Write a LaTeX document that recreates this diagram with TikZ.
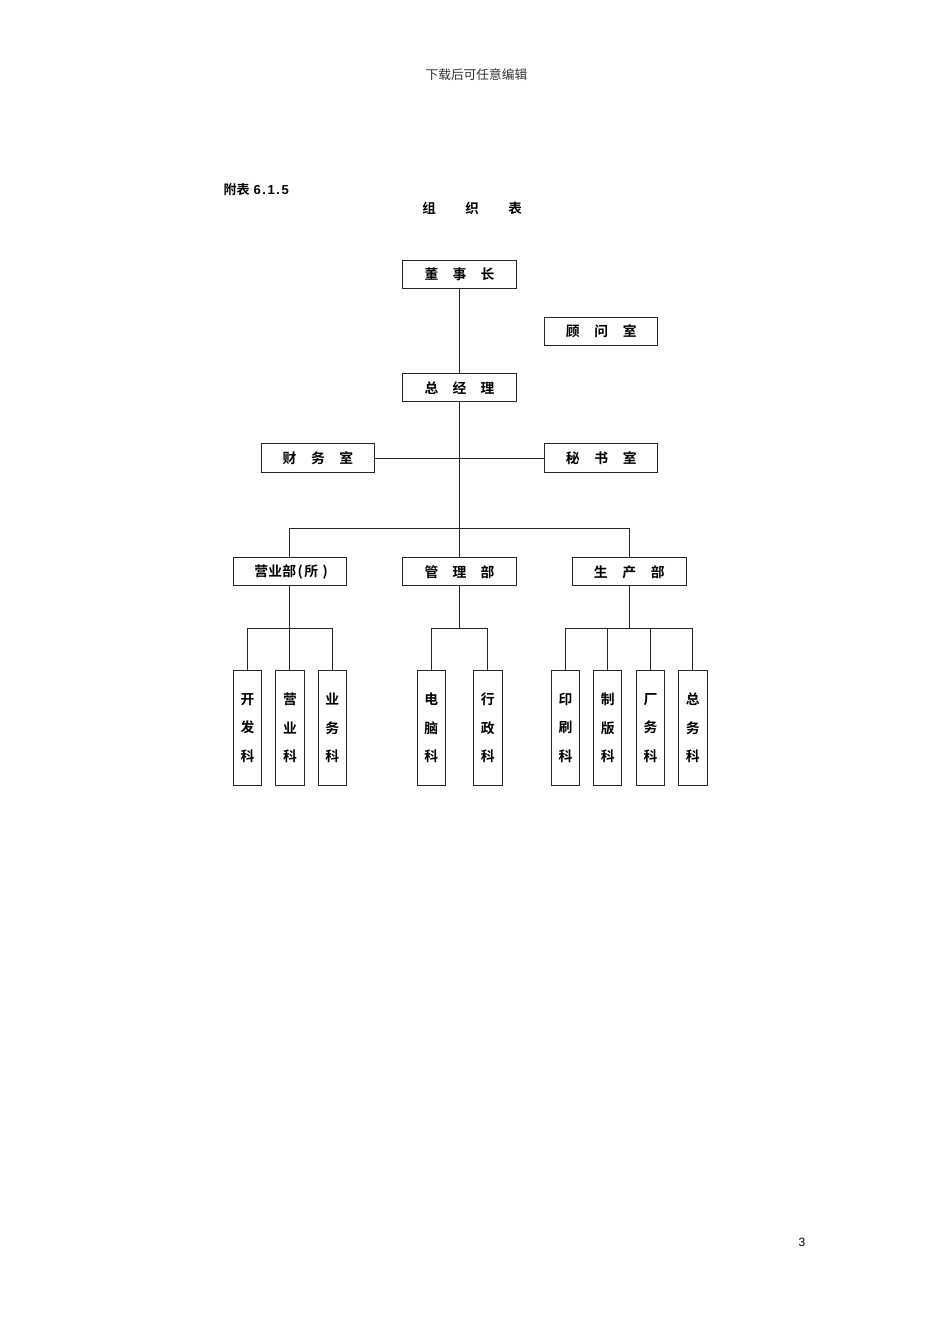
\documentclass[tikz,border=0pt]{standalone}
\usepackage{fontspec}
\setmainfont{Liberation Serif}
\newfontfamily\cjk[BoldFont={Noto Sans CJK SC Bold}]{Noto Sans CJK SC}
\newfontfamily\arial{Liberation Sans}
\newcommand\tri[4]{\makebox[#1]{#2}\makebox[#1]{#3}\makebox[#1]{#4}}
\tikzset{
  hbox/.style={draw=black!85, line width=1pt, minimum width=113.5pt, minimum height=28.3pt, inner sep=0pt,
    font=\cjk\bfseries\fontsize{13.8}{14}\selectfont},
  vbox/.style={draw=black!85, line width=1pt, minimum width=28.4pt, minimum height=114.3pt, inner sep=0pt, align=center,
    font=\cjk\bfseries\fontsize{13.8}{28.7}\selectfont},
  conn/.style={draw=black!85, line width=0.9pt},
}
\begin{document}
\begin{tikzpicture}[x=1pt,y=-1pt]
\useasboundingbox[fill=white] (0,0) rectangle (950,1344);
% header and titles
\node[font=\cjk\fontsize{12.7}{13}\selectfont, text=black!80] (hdr) at (476.4,75) {下载后可任意编辑};
\node[anchor=west, inner sep=0pt, font=\fontsize{13}{13}\selectfont] (tab) at (223.5,189.3)
  {{\cjk\bfseries 附表}\hspace{4pt}{\arial\bfseries\makebox[7pt]{6}\makebox[7pt]{.}\makebox[7pt]{1}\makebox[7pt]{.}\makebox[7pt]{5}}};
\node[font=\cjk\bfseries\fontsize{13.5}{14}\selectfont] (ttl) at (472,208.7) {\tri{43pt}{组}{织}{表}};
\node[font=\arial\fontsize{12}{12}\selectfont] (pg) at (802,1242) {3};
% top level
\node[hbox] (dsz) at (459.6,274.7) {\tri{28pt}{董}{事}{长}};
\node[hbox] (gws) at (601.2,331.5) {\tri{28.5pt}{顾}{问}{室}};
\node[hbox] (zjl) at (459.6,387.7) {\tri{28pt}{总}{经}{理}};
\node[hbox] (cws) at (317.9,458.1) {\tri{28.5pt}{财}{务}{室}};
\node[hbox] (mss) at (601.2,458.1) {\tri{28.5pt}{秘}{书}{室}};
% departments
\node[hbox] (yyb) at (289.9,571.8) {\hspace{6.8pt}\makebox[14pt]{营}\makebox[14pt]{业}\makebox[14pt]{部}\makebox[8pt]{(}\makebox[14pt]{所}\makebox[14pt]{)}};
\node[hbox] (glb) at (459.6,571.8) {\tri{28pt}{管}{理}{部}};
\node[hbox] (scb) at (629.3,571.8) {\tri{28.5pt}{生}{产}{部}};
% sections
\node[vbox] (k1) at (247.5,727.9) {开\\发\\科};
\node[vbox] (k2) at (289.9,727.9) {营\\业\\科};
\node[vbox] (k3) at (332.2,727.9) {业\\务\\科};
\node[vbox] (d1) at (431.3,727.9) {电\\脑\\科};
\node[vbox] (d2) at (487.8,727.9) {行\\政\\科};
\node[vbox] (p1) at (565.6,727.9) {印\\刷\\科};
\node[vbox] (p2) at (607.7,727.9) {制\\版\\科};
\node[vbox] (p3) at (650.6,727.9) {厂\\务\\科};
\node[vbox] (p4) at (692.8,727.9) {总\\务\\科};
% connectors
\def\yb{528.3}
\def\ys{628.7}
\draw[conn] (dsz.south) -- (zjl.north);
\draw[conn] (zjl.south) -- (glb.north);
\draw[conn] (cws.east) -- (mss.west);
\draw[conn] (yyb.north) |- (scb.north |- 0,\yb) -- (scb.north);
\draw[conn] (yyb.south) -- (k2.north);
\draw[conn] (k1.north) |- (k3.north |- 0,\ys) -- (k3.north);
\draw[conn] (glb.south) -- (glb.south |- 0,\ys);
\draw[conn] (d1.north) |- (d2.north |- 0,\ys) -- (d2.north);
\draw[conn] (scb.south) -- (scb.south |- 0,\ys);
\draw[conn] (p1.north) |- (p4.north |- 0,\ys) -- (p4.north);
\draw[conn] (p2.north) -- (p2.north |- 0,\ys);
\draw[conn] (p3.north) -- (p3.north |- 0,\ys);
\end{tikzpicture}
\end{document}
